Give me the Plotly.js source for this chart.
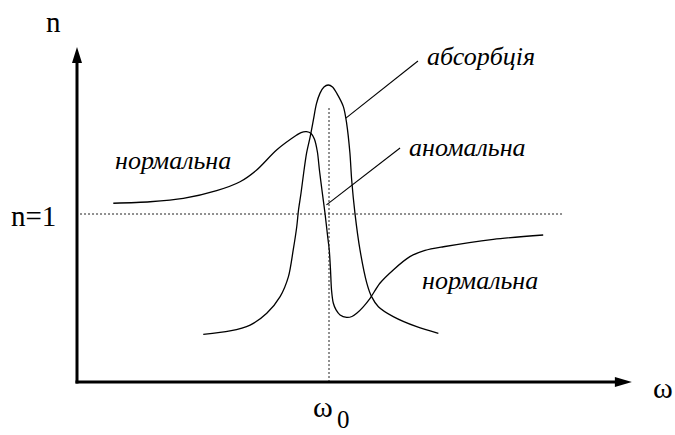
<!DOCTYPE html>
<html>
<head>
<meta charset="utf-8">
<script src="https://cdn.plot.ly/plotly-3.0.1.min.js"></script>
<style>html,body{margin:0;padding:0;background:#fff;}#chart{width:675px;height:435px;}</style>
</head>
<body>
<div id="chart"></div>
<script>
// Dispersion curve n(ω): normal -> anomalous -> normal
const dispOmega = [0.144,0.290,0.422,0.554,0.647,0.713,0.792,0.872,0.889,0.911,0.929,0.942,0.954,0.962,0.972,0.984,0.994,1.001,1.006,1.010,1.017,1.028,1.044,1.070,1.091,1.110,1.135,1.163,1.202,1.255,1.321,1.381,1.454,1.652,1.850];
const dispN     = [1.064,1.073,1.093,1.139,1.192,1.262,1.381,1.470,1.485,1.490,1.479,1.446,1.369,1.262,1.143,1.006,0.875,0.786,0.667,0.548,0.470,0.429,0.399,0.385,0.390,0.409,0.446,0.498,0.588,0.667,0.746,0.783,0.805,0.849,0.875];

// Absorption curve
const absOmega = [0.501,0.607,0.687,0.753,0.806,0.839,0.858,0.872,0.879,0.889,0.901,0.911,0.925,0.938,0.950,0.964,0.980,0.997,1.014,1.031,1.057,1.070,1.083,1.090,1.103,1.123,1.150,1.169,1.196,1.255,1.348,1.434];
const absVal   = [0.284,0.304,0.339,0.409,0.508,0.627,0.786,0.924,1.024,1.125,1.262,1.363,1.458,1.560,1.655,1.718,1.756,1.768,1.756,1.718,1.639,1.540,1.363,1.202,1.004,0.786,0.589,0.508,0.448,0.389,0.329,0.290];

// Reference levels
const nOne = 1;          // n = 1
const omega0 = 1;        // resonance frequency
const nOneSpan = [0.012, 1.929];
const omega0Top = 1.631;

// Axis extents
const yAxisTip = 1.994, xAxisTip = 2.202;

// Curve labels
const labelTexts = ['абсорбція','аномальна','нормальна','нормальна'];
const labelX = [1.381, 1.310, 0.143, 1.361];
const labelY = [1.935, 1.393, 1.321, 0.607];

// Leader lines [x0,y0,x1,y1]
const leaderAbs = [1.067, 1.571, 1.353, 1.911];
const leaderAnom = [0.990, 1.054, 1.282, 1.393];

const serif = 'Liberation Serif';

const traces = [
  {x: dispOmega, y: dispN, mode: 'lines', line: {color: '#000', width: 1.3, shape: 'spline', smoothing: 0.8}, hoverinfo: 'skip'},
  {x: absOmega, y: absVal, mode: 'lines', line: {color: '#000', width: 1.3, shape: 'spline', smoothing: 0.8}, hoverinfo: 'skip'}
];

const shapes = [
  {type: 'line', xref: 'x', yref: 'y', x0: nOneSpan[0], x1: nOneSpan[1], y0: nOne, y1: nOne, line: {color: '#222', width: 1, dash: '2px,2px'}},
  {type: 'line', xref: 'x', yref: 'y', x0: omega0, x1: omega0, y0: 0, y1: omega0Top, line: {color: '#222', width: 1, dash: '2px,2px'}},
  {type: 'line', xref: 'x', yref: 'y', x0: leaderAbs[0], y0: leaderAbs[1], x1: leaderAbs[2], y1: leaderAbs[3], line: {color: '#000', width: 1.1}},
  {type: 'line', xref: 'x', yref: 'y', x0: leaderAnom[0], y0: leaderAnom[1], x1: leaderAnom[2], y1: leaderAnom[3], line: {color: '#000', width: 1.1}},
  {type: 'line', xref: 'x', yref: 'y', x0: 0, x1: 0, y0: -0.009, y1: yAxisTip - 0.08, line: {color: '#000', width: 3}},
  {type: 'line', xref: 'x', yref: 'y', x0: -0.006, x1: xAxisTip - 0.06, y0: 0, y1: 0, line: {color: '#000', width: 3}},
  {type: 'path', xref: 'x', yref: 'y', xsizemode: 'pixel', ysizemode: 'pixel', xanchor: 0, yanchor: yAxisTip,
   path: 'M0,0 L-5,-16 L5,-16 Z', fillcolor: '#000', line: {width: 0}},
  {type: 'path', xref: 'x', yref: 'y', xsizemode: 'pixel', ysizemode: 'pixel', xanchor: xAxisTip, yanchor: 0,
   path: 'M0,0 L-17,-5 L-17,5 Z', fillcolor: '#000', line: {width: 0}}
];

const annotations = labelTexts.map((t, i) => ({
  text: '<i>' + t + '</i>', x: labelX[i], y: labelY[i], xref: 'x', yref: 'y',
  xanchor: 'left', yanchor: 'middle', showarrow: false,
  font: {family: serif, size: 26, color: '#000'}
}));
annotations.push(
  {text: 'n', x: -0.093, y: 2.143, xref: 'x', yref: 'y', xanchor: 'center', yanchor: 'middle', showarrow: false, font: {family: serif, size: 29, color: '#000'}},
  {text: 'n=1', x: -0.077, y: 0.99, xref: 'x', yref: 'y', xanchor: 'right', yanchor: 'middle', showarrow: false, font: {family: serif, size: 29, color: '#000'}},
  {text: 'ω', x: 2.325, y: -0.03, xref: 'x', yref: 'y', xanchor: 'center', yanchor: 'middle', showarrow: false, font: {family: serif, size: 30, color: '#000'}},
  {text: 'ω', x: 0.977, y: -0.143, xref: 'x', yref: 'y', xanchor: 'center', yanchor: 'middle', showarrow: false, font: {family: serif, size: 30, color: '#000'}},
  {text: '0', x: 1.058, y: -0.222, xref: 'x', yref: 'y', xanchor: 'center', yanchor: 'middle', showarrow: false, font: {family: serif, size: 25, color: '#000'}}
);

const layout = {
  width: 675, height: 435,
  margin: {l: 0, r: 0, t: 0, b: 0, pad: 0},
  paper_bgcolor: '#fff', plot_bgcolor: '#fff',
  showlegend: false,
  xaxis: {range: [-0.30556, 2.37302], visible: false, fixedrange: true},
  yaxis: {range: [-0.31548, 2.27381], visible: false, fixedrange: true},
  shapes: shapes,
  annotations: annotations
};

Plotly.newPlot('chart', traces, layout, {displayModeBar: false, staticPlot: true});
</script>
</body>
</html>
